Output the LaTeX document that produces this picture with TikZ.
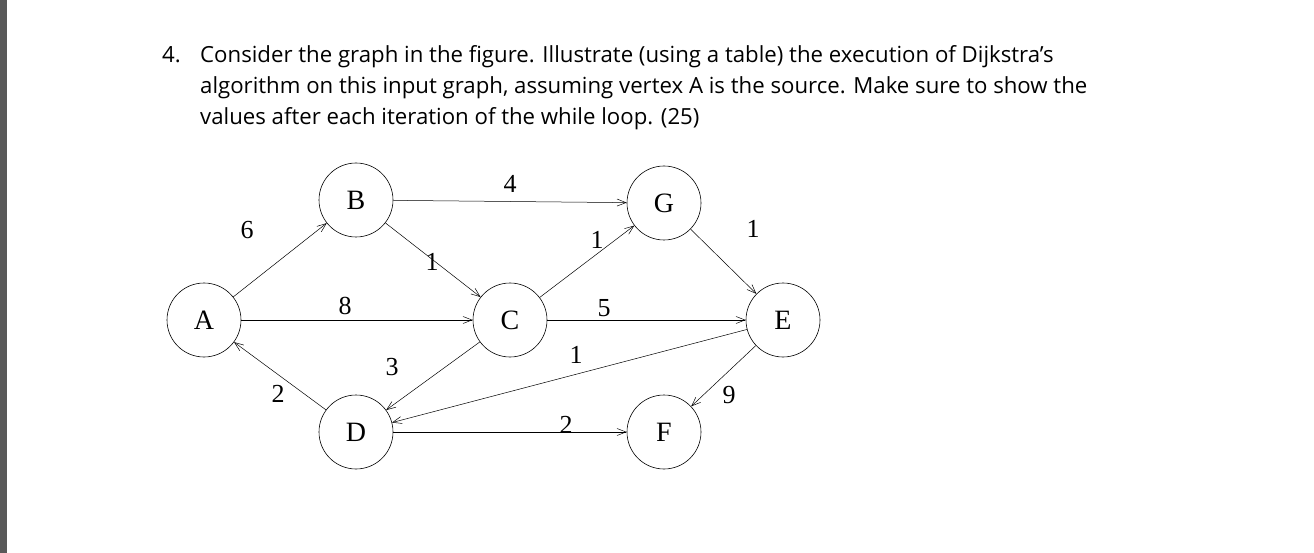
\documentclass[tikz,border=0pt]{standalone}
\usepackage{fontspec}
\setmainfont{Liberation Serif}
\newfontfamily\qfont{Open Sans}
\usetikzlibrary{arrows.meta}
\begin{document}
\begin{tikzpicture}[x=1pt,y=-1pt,
  vtx/.style={circle,draw,line width=0.6pt,minimum size=74pt,inner sep=0pt,font=\fontsize{28}{28}\selectfont},
  edge/.style={line width=0.5pt,-{Straight Barb[length=9pt,width=7pt,line width=0.5pt]}},
  wt/.style={font=\fontsize{26}{26}\selectfont,inner sep=0pt},
  q/.style={anchor=base west,inner sep=0pt,font=\qfont\fontsize{22.2}{22.2}\selectfont}]
\useasboundingbox (0,0) rectangle (1314,553);
\fill[white] (0,0) rectangle (1314,553);
\fill[black!65] (0,0) rectangle (7,553);
\node[q] (n4) at (162,63) {4.};
\node[q] (l1) at (200,63) {Consider the graph in the figure. Illustrate (using a table) the execution of Dijkstra’s};
\node[q] (l2) at (200,94) {algorithm on this input graph, assuming vertex A is the source. Make sure to show the};
\node[q] (l3) at (200,125) {values after each iteration of the while loop. (25)};
\node[vtx] (A) at (204,320) {A};
\node[vtx] (B) at (356,200) {B};
\node[vtx] (G) at (664,203) {G};
\node[vtx] (C) at (510,320) {C};
\node[vtx] (E) at (783,320) {E};
\node[vtx] (D) at (356,432) {D};
\node[vtx] (F) at (664,432) {F};
\draw[edge] (A) -- (B);
\draw[edge] (B) -- (G);
\draw[edge] (G) -- (E);
\draw[edge] (B) -- (C);
\draw[edge] (A) -- (C);
\draw[edge] (C) -- (G);
\draw[edge] (C) -- (E);
\draw[edge] (E) -- (D);
\draw[edge] (C) -- (D);
\draw[edge] (D) -- (A);
\draw[edge] (D) -- (F);
\draw[edge] (E) -- (F);
\node[wt] (w1) at (247,230) {6};
\node[wt] (w2) at (510,184) {4};
\node[wt] (w3) at (753,229) {1};
\node[wt] (w4) at (432,262) {1};
\node[wt] (w5) at (345,306) {8};
\node[wt] (w6) at (597,240) {1};
\node[wt] (w7) at (604,308) {5};
\node[wt] (w8) at (576,355) {1};
\node[wt] (w9) at (392,367) {3};
\node[wt] (w10) at (278,394) {2};
\node[wt] (w11) at (566,425) {2};
\node[wt] (w12) at (729,395) {9};
\end{tikzpicture}
\end{document}
